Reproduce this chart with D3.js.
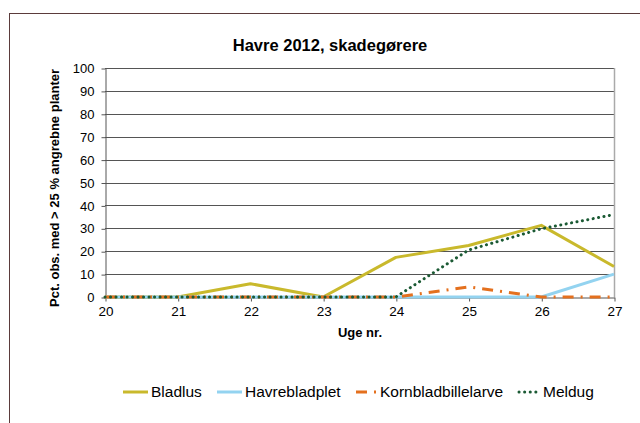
<!DOCTYPE html>
<html>
<head>
<meta charset="utf-8">
<script src="https://cdn.jsdelivr.net/npm/d3@7"></script>
<style>
  body { margin: 0; background: #fff; }
  text { font-family: Arial, "Liberation Sans", sans-serif; }
</style>
</head>
<body>
<div id="chart"></div>
<script>
var w = 640;
var h = 423;

// data
var weeks = [20, 21, 22, 23, 24, 25, 26, 27];
var yTicks = [0, 10, 20, 30, 40, 50, 60, 70, 80, 90, 100];
var bladlus = [0, 0, 5.8, 0, 17.3, 22.5, 31.3, 13.3];
var havrebladplet = [0, 0, 0, 0, 0, 0, 0, 10];
var kornbladbillelarve = [0, 0, 0, 0, 0, 4.4, 0, 0];
var meldug = [0, 0, 0, 0, 0, 20.5, 29.8, 36];
var seriesNames = ["Bladlus", "Havrebladplet", "Kornbladbillelarve", "Meldug"];

var svg = d3.select("#chart").append("svg").attr("width", w).attr("height", h);

// outer frame
svg.append("rect")
  .attr("x", 9.5).attr("y", 13.5)
  .attr("width", 660).attr("height", 440)
  .attr("fill", "none").attr("stroke", "#5b3b3b").attr("stroke-width", 1);

var pLeft = 105, pRight = 614, pTop = 68, pBottom = 297;

var x = d3.scaleLinear().domain([20, 27]).range([pLeft, pRight]);
var y = d3.scaleLinear().domain([0, 100]).range([pBottom, pTop]);

// gridlines
svg.append("g").selectAll("line").data(yTicks.filter(function(d) { return d > 0; }))
  .enter().append("line")
  .attr("x1", pLeft).attr("x2", pRight)
  .attr("y1", function(d) { return Math.round(y(d)) + 0.5; })
  .attr("y2", function(d) { return Math.round(y(d)) + 0.5; })
  .attr("stroke", "#555").attr("stroke-width", 1);

// right plot border
svg.append("line")
  .attr("x1", pRight + 0.5).attr("x2", pRight + 0.5)
  .attr("y1", pTop).attr("y2", pBottom)
  .attr("stroke", "#aaa").attr("stroke-width", 1.5);

// y axis
var yAxis = svg.append("g")
  .attr("transform", "translate(" + (pLeft + 0.5) + ",0.5)")
  .call(d3.axisLeft(y).tickValues(yTicks).tickSize(4).tickPadding(7).tickSizeOuter(0));
yAxis.selectAll("text").attr("font-size", 13).attr("fill", "#000")
  .style("font-family", "Arial, 'Liberation Sans', sans-serif");
yAxis.selectAll("line, path").attr("stroke", "#555");

// x axis
var xAxis = svg.append("g")
  .attr("transform", "translate(0.5," + (pBottom + 0.5) + ")")
  .call(d3.axisBottom(x).tickValues(weeks).tickFormat(d3.format("d")).tickSize(4).tickPadding(5).tickSizeOuter(0));
xAxis.selectAll("text").attr("font-size", 13.5).attr("fill", "#000")
  .style("font-family", "Arial, 'Liberation Sans', sans-serif");
xAxis.selectAll("line, path").attr("stroke", "#555");

// titles
svg.append("text").text("Havre 2012, skadegørere")
  .attr("x", 330).attr("y", 51).attr("text-anchor", "middle")
  .attr("font-size", 16.5).attr("font-weight", "bold");
svg.append("text").text("Uge nr.")
  .attr("x", 360).attr("y", 337).attr("text-anchor", "middle")
  .attr("font-size", 13).attr("font-weight", "bold");
svg.append("text").text("Pct. obs. med > 25 % angrebne planter")
  .attr("transform", "translate(59,188) rotate(-90)")
  .attr("text-anchor", "middle")
  .attr("font-size", 13).attr("font-weight", "bold");

// series
var styles = [
  { color: "#c9b92c", dash: null, cap: "butt" },
  { color: "#93d3f0", dash: null, cap: "butt" },
  { color: "#e4701e", dash: "11,7,2,7", cap: "butt" },
  { color: "#1b5a34", dash: "0.1,5.4", cap: "round" }
];
var allData = [bladlus, havrebladplet, kornbladbillelarve, meldug];

var line = d3.line()
  .x(function(d, i) { return x(weeks[i]); })
  .y(function(d) { return y(d); });

for (var i = 0; i < allData.length; i = i + 1) {
  var p = svg.append("path")
    .attr("d", line(allData[i]))
    .attr("fill", "none")
    .attr("stroke", styles[i].color)
    .attr("stroke-width", 3)
    .attr("stroke-linecap", styles[i].cap)
    .attr("stroke-linejoin", "round");
  if (styles[i].dash) p.attr("stroke-dasharray", styles[i].dash);
}

// legend
var legX = [123, 217, 356, 519];
var legW = [25, 25, 21, 21];
var legDash = [null, null, "11,7,2,7", "0.1,5.5"];
for (var j = 0; j < seriesNames.length; j = j + 1) {
  var lp = svg.append("line")
    .attr("x1", legX[j]).attr("x2", legX[j] + legW[j])
    .attr("y1", 392).attr("y2", 392)
    .attr("stroke", styles[j].color).attr("stroke-width", 3)
    .attr("stroke-linecap", styles[j].cap);
  if (legDash[j]) lp.attr("stroke-dasharray", legDash[j]);
  svg.append("text").text(seriesNames[j])
    .attr("x", legX[j] + legW[j] + 3).attr("y", 397)
    .attr("font-size", 15.5);
}
</script>
</body>
</html>
